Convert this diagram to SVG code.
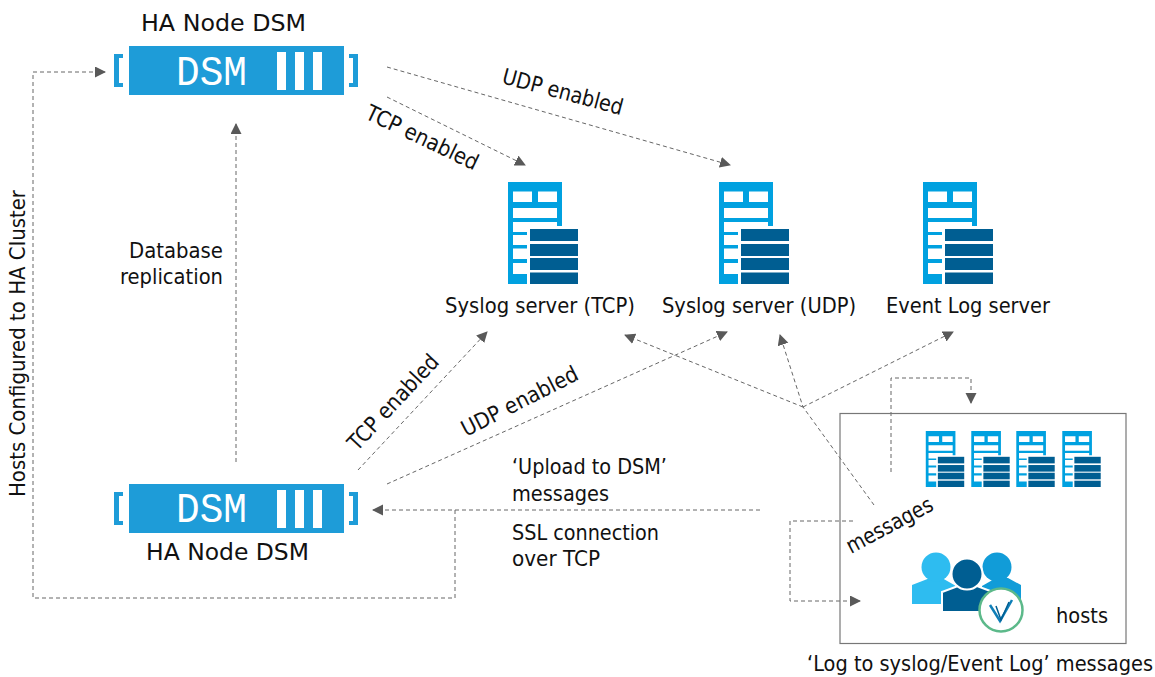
<svg xmlns="http://www.w3.org/2000/svg" width="1155" height="677" viewBox="0 0 1155 677">
<style>
text{font-family:"DejaVu Sans","Noto Sans",sans-serif;font-stretch:condensed;font-size:22px;fill:#111}
.dsm{font-family:"Liberation Mono","DejaVu Sans Mono",monospace;font-stretch:normal;font-size:42px;fill:#fff}
.c{fill:none;stroke:#666;stroke-width:1;stroke-dasharray:4 3}
.blue{fill:#1e9cd8}
.frame{fill:#00a1e0}
.dark{fill:#005e92}
</style>
<defs>
<marker id="a" markerUnits="userSpaceOnUse" markerWidth="12" markerHeight="12" refX="10" refY="5.500" orient="auto"><path d="M0 0L11 5.500L0 11z" fill="#595959"/></marker>
<symbol id="srv" viewBox="0 0 70 102" overflow="visible">
<path class="frame" fill-rule="evenodd" d="M0 0H54V44H49V40H5V50H19V53H5V63H19V66.500H5V77H19V81H5V92H19V102H0ZM5 9.500V20H24V9.500ZM30 9.500V20H49V9.500ZM5 26V36H49V26Z"/>
<rect class="dark" x="22" y="47" width="48" height="12"/>
<rect class="dark" x="22" y="62" width="48" height="12"/>
<rect class="dark" x="22" y="76" width="48" height="12"/>
<rect class="dark" x="22" y="90.500" width="48" height="11.500"/>
</symbol>
<g id="dsmshape">
<rect class="blue" x="0" y="0" width="215" height="49"/>
<path class="blue" d="M-15 8H-6V12H-10V37H-6V41H-15ZM229 8H220V12H224V37H220V41H229Z"/>
<rect x="148" y="6" width="9" height="38" fill="#fff"/>
<rect x="166" y="6" width="9" height="38" fill="#fff"/>
<rect x="184" y="6" width="9" height="38" fill="#fff"/>
</g>
</defs>
<g id="connectors">
<path class="c" marker-end="url(#a)" d="M455 510V598H33V72H105"/>
<path class="c" marker-end="url(#a)" d="M236 462V124"/>
<path class="c" marker-end="url(#a)" d="M387 67L730 165"/>
<path class="c" marker-end="url(#a)" d="M387 97L525 165"/>
<path class="c" marker-end="url(#a)" d="M358 470L487 332"/>
<path class="c" marker-end="url(#a)" d="M387 484L727 332"/>
<path class="c" marker-end="url(#a)" d="M760 510H373"/>
<path class="c" marker-end="url(#a)" d="M874 505L803 407L780 335"/>
<path class="c" marker-end="url(#a)" d="M803 407L625 335"/>
<path class="c" marker-end="url(#a)" d="M803 407L953 332"/>
<path class="c" marker-end="url(#a)" d="M891 472V378H971V403"/>
<path class="c" marker-end="url(#a)" d="M853 521H790V601H860"/>
</g>
<g id="dsm-top">
<use href="#dsmshape" x="129" y="46"/>
<text class="dsm" x="176" y="85" textLength="71" lengthAdjust="spacingAndGlyphs">DSM</text>
<text x="141" y="31" style="font-size:23px" textLength="165" lengthAdjust="spacingAndGlyphs">HA Node DSM</text>
</g>
<g id="dsm-bottom">
<use href="#dsmshape" x="129" y="484"/>
<text class="dsm" x="176" y="522" textLength="71" lengthAdjust="spacingAndGlyphs">DSM</text>
<text x="146" y="560" style="font-size:23px" textLength="163" lengthAdjust="spacingAndGlyphs">HA Node DSM</text>
</g>
<g id="syslog-tcp">
<use href="#srv" x="508" y="182" width="70" height="102"/>
<text x="445" y="313" textLength="190" lengthAdjust="spacingAndGlyphs">Syslog server (TCP)</text>
</g>
<g id="syslog-udp">
<use href="#srv" x="719" y="182" width="70" height="102"/>
<text x="662" y="313" textLength="194" lengthAdjust="spacingAndGlyphs">Syslog server (UDP)</text>
</g>
<g id="eventlog">
<use href="#srv" x="923" y="182" width="70" height="102"/>
<text x="886" y="313" textLength="164" lengthAdjust="spacingAndGlyphs">Event Log server</text>
</g>
<g id="hosts">
<rect x="840" y="413.500" width="286" height="230" fill="none" stroke="#777" stroke-width="1.200"/>
<use href="#srv" x="925.500" y="431" width="39" height="56"/>
<use href="#srv" x="971" y="431" width="39" height="56"/>
<use href="#srv" x="1016" y="431" width="39" height="56"/>
<use href="#srv" x="1062" y="431" width="39" height="56"/>
<path d="M912 604V585L930 578H942L956 586V604Z" fill="#2ebcf0"/>
<circle cx="936" cy="567" r="14.500" fill="#2ebcf0"/>
<path d="M982 604V586L996 578H1008L1021 585V604Z" fill="#119cd8"/>
<circle cx="997" cy="567" r="14.500" fill="#119cd8"/>
<path d="M942 612V592L958 586H977L993 592V612Z" fill="#005e92" stroke="#fff" stroke-width="2"/>
<circle cx="967" cy="574" r="15.500" fill="#005e92" stroke="#fff" stroke-width="2"/>
<circle cx="1001" cy="610" r="21.500" fill="#fff" stroke="#5cb98a" stroke-width="2.500"/>
<path d="M990 605L1000 621L1012 600" fill="none" stroke="#0f7fb8" stroke-width="2.500"/>
<path d="M996 606L1001 620L1009 602" fill="none" stroke="#005e92" stroke-width="1.500"/>
<text x="1056" y="623" textLength="52" lengthAdjust="spacingAndGlyphs">hosts</text>
</g>
<g id="labels">
<text transform="translate(501 83) rotate(15)" textLength="124" lengthAdjust="spacingAndGlyphs">UDP enabled</text>
<text transform="translate(364 118) rotate(25.500)" textLength="122" lengthAdjust="spacingAndGlyphs">TCP enabled</text>
<text transform="translate(357 452) rotate(-47)" textLength="122" lengthAdjust="spacingAndGlyphs">TCP enabled</text>
<text transform="translate(466 437) rotate(-27)" textLength="128" lengthAdjust="spacingAndGlyphs">UDP enabled</text>
<text transform="translate(851 554) rotate(-28)" textLength="95" lengthAdjust="spacingAndGlyphs">messages</text>
<text transform="translate(25 497) rotate(-90)" textLength="307" lengthAdjust="spacingAndGlyphs">Hosts Configured to HA Cluster</text>
<text x="129" y="258" textLength="94" lengthAdjust="spacingAndGlyphs">Database</text>
<text x="120" y="284" textLength="103" lengthAdjust="spacingAndGlyphs">replication</text>
<text x="512" y="474" textLength="155" lengthAdjust="spacingAndGlyphs">‘Upload to DSM’</text>
<text x="512" y="501" textLength="97" lengthAdjust="spacingAndGlyphs">messages</text>
<text x="512" y="540" textLength="147" lengthAdjust="spacingAndGlyphs">SSL connection</text>
<text x="512" y="566" textLength="88" lengthAdjust="spacingAndGlyphs">over TCP</text>
<text x="807" y="671" style="font-size:21px" textLength="346" lengthAdjust="spacingAndGlyphs">‘Log to syslog/Event Log’ messages</text>
</g>
</svg>
